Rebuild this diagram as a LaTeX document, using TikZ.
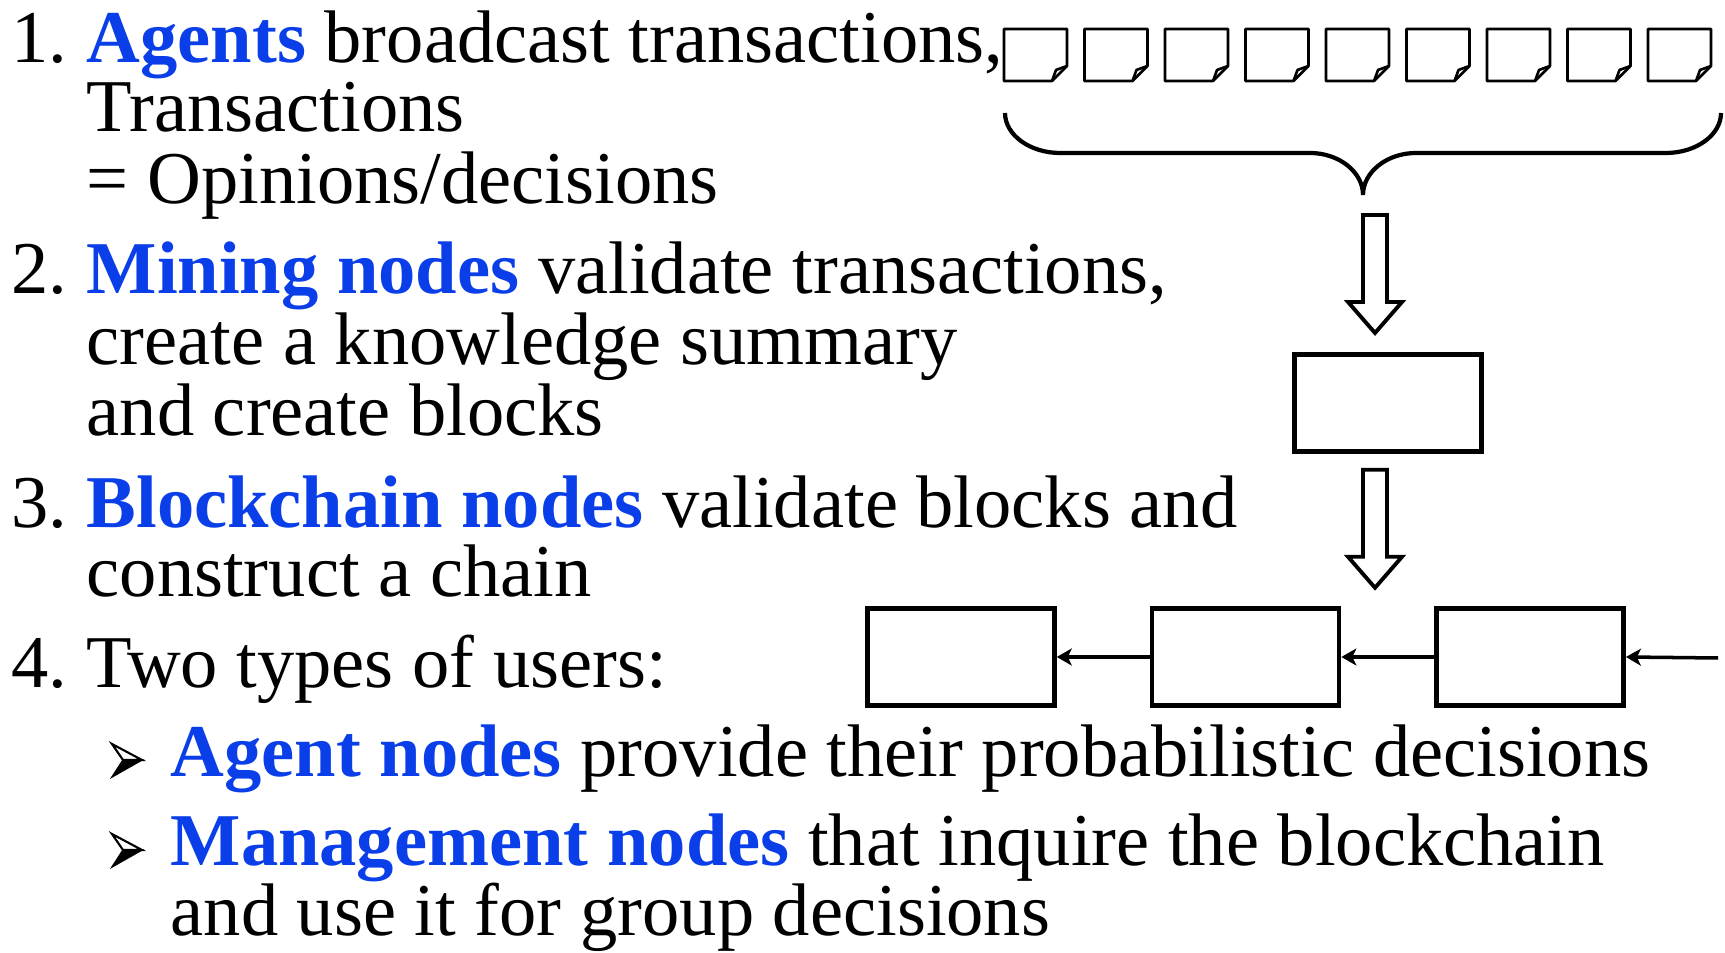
\documentclass[tikz,border=0pt]{standalone}
\usepackage{fontspec}
\setmainfont{Liberation Serif}
\usetikzlibrary{positioning,calc,arrows.meta}
\definecolor{KeyBlue}{RGB}{10,62,232}
\newcommand{\key}[1]{\textcolor{KeyBlue}{\textbf{#1}}}

\tikzset{
  txt/.style={anchor=base west, inner sep=0pt, font=\fontsize{21.2}{21.2}\selectfont},
  blk/.style={draw, line width=1.3pt, minimum width=18.7mm, minimum height=9.7mm, inner sep=0pt},
  link/.style={line width=1pt, -{Stealth[length=1.5mm,width=1.7mm,inset=0.4mm]}},
  % transaction sheet with a folded corner
  doc/.pic={
    \draw[line width=0.75pt, line join=round] (0,0) -- (63,0) -- (63,37) -- (48,52) -- (0,52) -- cycle;
    \draw[line width=0.75pt, line join=round] (48,52) -- (52,41) -- (63,37);
  },
  % hollow down arrow, origin at top of the shaft
  fatarrow/.pic={
    \draw[line width=1.1pt, line join=miter] (-12,0) -- (-12,87) -- (-27,87) -- (0,118) -- (27,87) -- (12,87) -- (12,0) -- cycle;
  },
  % arrowhead bullet, origin at the tip
  ptr/.pic={
    \filldraw[line width=0.4pt, line join=miter] (-19,0) -- (0,0) -- (-30,17) -- cycle;
    \draw[line width=0.6pt, line join=miter] (-30,-16) -- (0,0) -- (-19,0) -- cycle;
  }
}

\begin{document}
\begin{tikzpicture}[x=0.1mm,y=-0.1mm]
  \useasboundingbox (0,0) rectangle (1725,953);

  % numbered list
  \node[txt] (n1) at (11,63) {1.};
  \node[txt] (t1a) at (86,63) {\key{Agents} broadcast transactions,};
  \node[txt] (t1b) at (86,132) {Transactions};
  \node[txt] (t1c) at (86,204) {= Opinions/decisions};

  \node[txt] (n2) at (11,294) {2.};
  \node[txt] (t2a) at (86,294) {\key{Mining nodes} validate transactions,};
  \node[txt] (t2b) at (86,365) {create a knowledge summary};
  \node[txt] (t2c) at (86,436) {and create blocks};

  \node[txt] (n3) at (11,528) {3.};
  \node[txt] (t3a) at (86,528) {\key{Blockchain nodes} validate blocks and};
  \node[txt] (t3b) at (86,597) {construct a chain};

  \node[txt] (n4) at (11,688) {4.};
  \node[txt] (t4a) at (86,688) {Two types of users:};

  \pic at (142,760) {ptr};
  \node[txt] (s1) at (170,777) {\key{Agent nodes} provide their probabilistic decisions};
  \pic at (142,850) {ptr};
  \node[txt] (s2a) at (170,866) {\key{Management nodes} that inquire the blockchain};
  \node[txt] (s2b) at (170,936) {and use it for group decisions};

  % transactions
  \foreach \i in {0,...,8}
    \pic at ({1004+80.5*\i},29) {doc};

  \coordinate (bracetip) at (1363,195);
  \draw[line width=1.2pt] (1005,113) .. controls (1005,135) and (1030,153) .. (1060,153)
    -- (1310,153) .. controls (1339,153) and (1363,172) .. (bracetip)
    .. controls (1363,172) and (1387,153) .. (1416,153)
    -- (1666,153) .. controls (1696,153) and (1721,135) .. (1721,113);

  % block and chain
  \node[blk] (mine) at (1388,403) {};
  \pic at ($(bracetip)+(12,20)$) {fatarrow};
  \pic at ($(mine.south)+(-13,16)$) {fatarrow};

  \node[blk] (blk1) at (961,657) {};
  \node[blk, right=9.3mm of blk1] (blk2) {};
  \node[blk, right=9.3mm of blk2] (blk3) {};
  \coordinate (tail) at (1718,658);

  \draw[link] (blk2.west) -- (blk1.east);
  \draw[link] (blk3.west) -- (blk2.east);
  \draw[link] (tail) -- (blk3.east);
\end{tikzpicture}
\end{document}
